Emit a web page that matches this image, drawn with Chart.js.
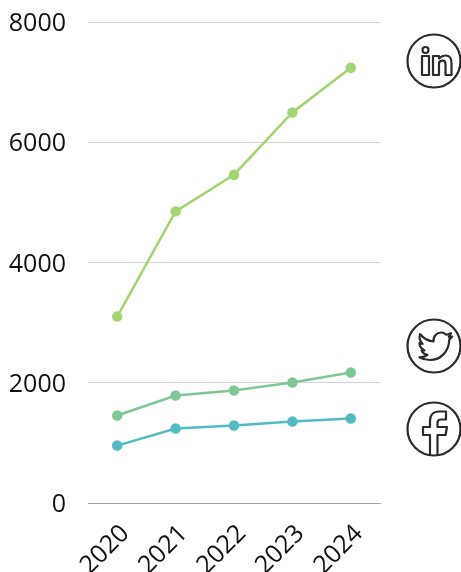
<!DOCTYPE html>
<html><head><meta charset="utf-8">
<script src="https://cdn.jsdelivr.net/npm/chart.js@4"></script>
<style>
html,body{margin:0;padding:0;background:#fff;overflow:hidden}
#wrap{position:relative;width:461px;height:572px}
canvas{position:absolute;left:0;top:0}
svg{position:absolute;fill:none;stroke:#2b2b2b;stroke-width:2.2;stroke-linejoin:round;stroke-linecap:round}
</style></head><body>
<div id="wrap"><canvas id="c" width="461" height="572"></canvas>
<svg style="left:406px;top:32px" width="55" height="58" viewBox="0 0 55 58"><circle cx="28" cy="29" r="26.5"/>
<circle cx="19.500" cy="18" r="3"/><path d="M16 24h7v19h-7zM27 24h6v2.500c2-2 4-3 6.500-3 4 0 6 3 6 7.500V43h-6V32c0-2-1-3.300-3-3.300s-3.500 1.300-3.500 3.300v11h-6z"/></svg>
<svg style="left:406px;top:317px" width="55" height="58" viewBox="0 0 55 58"><circle cx="28" cy="29" r="26.500"/>
<path transform="translate(2 2)" d="M12 15c3.500 4.500 8 7 13.500 7.500C25 17 29 13.500 33 13.500c2.300 0 4 1 5.300 2.200l4.700-1.500-2.200 4 3.400-.7-3 3.500C41 32 33 41 22 41c-4 0-7.500-1-10.500-2.800 3.200.2 6-.7 8-2.300-3-.5-5-2-6-4.500h3c-3-1.500-5-4-5-7.300l3 .8c-3-3-3.500-6-2.500-9.900z"/></svg>
<svg style="left:406px;top:400px" width="55" height="58" viewBox="0 0 55 58"><circle cx="28" cy="29" r="26.500"/>
<path d="M24 55V35h-7v-8h7v-6c0-6 3.500-9.500 9-9.500h7v8h-5c-2 0-3.500 1-3.500 3.500v4H41l-1.500 8h-8v20"/></svg>
</div>
<script>
const categories = ["2020","2021","2022","2023","2024"];
const seriesTop = [3100,4850,5460,6495,7240];
const seriesMiddle = [1455,1787,1870,2003,2170];
const seriesLower = [955,1238,1288,1354,1404];
const yTicks = [0,2000,4000,6000,8000];
const font = {family:"'Open Sans'",size:25};
const ds = (data,color)=>({data,borderColor:color,backgroundColor:color,pointBackgroundColor:color,pointBorderColor:color,borderWidth:2.5,pointRadius:4,pointHoverRadius:4,tension:0});
new Chart(document.getElementById('c'),{
 type:'line',
 data:{labels:categories,datasets:[ds(seriesTop,'#a3d46f'),ds(seriesMiddle,'#7fc796'),ds(seriesLower,'#52bcc2')]},
 options:{responsive:false,animation:false,
  layout:{padding:{top:22,right:81,left:0,bottom:0}},
  plugins:{legend:{display:false},tooltip:{enabled:false}},
  scales:{
   x:{offset:true,grid:{display:false,drawTicks:false},border:{color:'#a6a6a6',width:1},
      ticks:{font,color:'#111',minRotation:45,maxRotation:45,padding:16,labelOffset:8},
      afterFit(s){s.height=69;}},
   y:{min:0,max:8000,grid:{color:'#d4d4d4',drawTicks:false},border:{display:false},
      afterBuildTicks(s){s.ticks=yTicks.map(v=>({value:v}));},
      ticks:{font,color:'#111',padding:22,labelOffset:2,callback:v=>String(v)},
      afterFit(s){s.width=88;s.paddingTop=0;}}
  }}
});
</script></body></html>
